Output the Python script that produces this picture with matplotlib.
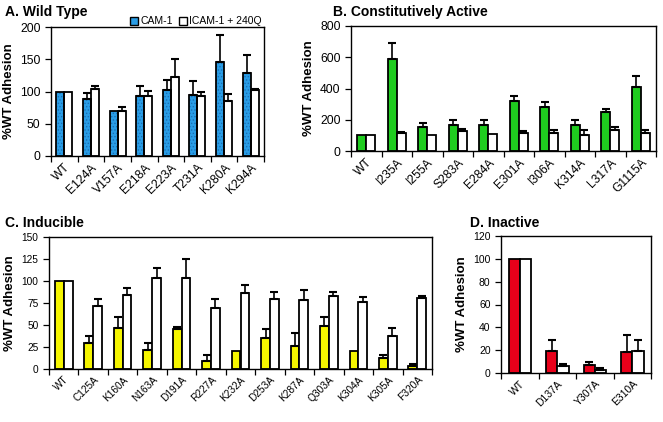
import matplotlib
matplotlib.use("Agg")
import matplotlib.pyplot as plt
import numpy as np
from matplotlib.patches import Patch

plt.rcParams['font.family'] = ['Liberation Sans', 'DejaVu Sans']
plt.rcParams['hatch.linewidth'] = 0.6

# Panel A
a_labels = ["WT", "E124A", "V157A", "E218A", "E223A", "T231A", "K280A", "K294A"]
a_s1 = [100, 88, 70, 93, 103, 94, 145, 129]
a_s1_err = [0, 9, 0, 16, 15, 22, 43, 28]
a_s2 = [100, 104, 70, 93, 122, 93, 86, 102]
a_s2_err = [0, 4, 6, 8, 28, 6, 10, 2]

# Panel B
b_labels = ["WT", "I235A", "I255A", "S283A", "E284A", "E301A", "I306A", "K314A", "L317A", "G1115A"]
b_s1 = [100, 592, 154, 169, 169, 321, 282, 165, 252, 411]
b_s1_err = [0, 97, 26, 28, 32, 30, 32, 32, 20, 68]
b_s2 = [100, 115, 100, 126, 111, 115, 115, 100, 137, 118]
b_s2_err = [0, 7, 0, 17, 0, 11, 18, 33, 15, 19]

# Panel C
c_labels = ["WT", "C125A", "K160A", "N163A", "D191A", "R227A", "K232A", "D253A", "K287A", "Q303A", "K304A", "K305A", "F320A"]
c_s1 = [100, 29, 47, 22, 45, 9, 21, 35, 26, 49, 20, 12, 3]
c_s1_err = [0, 9, 12, 8, 3, 7, 0, 11, 15, 10, 0, 4, 3]
c_s2 = [100, 72, 84, 103, 103, 69, 86, 79, 78, 83, 76, 37, 81]
c_s2_err = [0, 7, 8, 12, 22, 10, 9, 9, 12, 5, 6, 10, 2]

# Panel D
d_labels = ["WT", "D137A", "Y307A", "E310A"]
d_s1 = [100, 19, 7, 18]
d_s1_err = [0, 10, 3, 15]
d_s2 = [100, 6, 3, 19]
d_s2_err = [0, 2, 1, 10]

legend_labels = ["CAM-1", "ICAM-1 + 240Q"]

BLUE = '#2a9de6'
BLUE_DOT = '#1b6fb5'

W, H = 663, 422
fig = plt.figure(figsize=(W / 100, H / 100), dpi=100)

def add_ax(x0, y0, x1, y1):
    return fig.add_axes([x0 / W, 1 - y1 / H, (x1 - x0) / W, (y1 - y0) / H])

def panel(ax, labels, s1, e1, s2, e2, color, ymax, ystep, tfs, hatch=None):
    n = len(labels)
    x = np.arange(n)
    w = 0.30
    if hatch:
        ax.bar(x - w / 2, s1, w, color=color, edgecolor=BLUE_DOT, linewidth=0, hatch=hatch, zorder=2)
        ax.bar(x - w / 2, s1, w, facecolor='none', edgecolor='black', linewidth=1.3, zorder=2.1)
    else:
        ax.bar(x - w / 2, s1, w, color=color, edgecolor='black', linewidth=1.3, zorder=2)
    ax.bar(x + w / 2, s2, w, color='white', edgecolor='black', linewidth=1.3, zorder=2)
    for xs, vals, errs in ((x - w / 2, s1, e1), (x + w / 2, s2, e2)):
        for xi, v, e in zip(xs, vals, errs):
            if e > 0:
                ax.errorbar([xi], [v], yerr=[[0], [e]], fmt='none', ecolor='black',
                            elinewidth=1.2, capsize=3, capthick=1.5, zorder=3)
    ax.set_xlim(-0.5, n - 0.5)
    ax.set_ylim(0, ymax)
    ax.set_yticks(np.arange(0, ymax + 1, ystep))
    ax.set_xticks(x)
    ax.set_xticklabels(labels, rotation=45, ha='right', rotation_mode='anchor', fontsize=tfs)
    ax.tick_params(axis='x', length=0, pad=4)
    ax.set_xticks(np.arange(n + 1) - 0.5, minor=True)
    ax.tick_params(axis='x', which='minor', length=4, width=0.9, direction='out')
    ax.tick_params(axis='y', length=4, width=0.9, direction='out', labelsize=tfs)
    for s in ax.spines.values():
        s.set_linewidth(1.0)
    ax.set_ylabel('%WT Adhesion', fontsize=9.5, fontweight='bold')

axA = add_ax(51, 27, 264, 156)
panel(axA, a_labels, a_s1, a_s1_err, a_s2, a_s2_err, BLUE, 200, 50, 8.7, hatch='.....')
axB = add_ax(351, 26, 656, 151)
panel(axB, b_labels, b_s1, b_s1_err, b_s2, b_s2_err, '#1fcc1f', 800, 200, 8.7)
axC = add_ax(49, 237, 432, 369)
panel(axC, c_labels, c_s1, c_s1_err, c_s2, c_s2_err, '#f5f500', 150, 25, 7.3)
axD = add_ax(501, 236, 651, 373)
panel(axD, d_labels, d_s1, d_s1_err, d_s2, d_s2_err, '#e8001a', 120, 20, 7.5)

handles = [Patch(facecolor=BLUE, edgecolor='black'),
           Patch(facecolor='white', edgecolor='black')]
axA.legend(handles, legend_labels, loc='lower right', bbox_to_anchor=(1.0, 0.99),
           ncol=2, frameon=False, fontsize=7.5, handlelength=0.8, handleheight=0.8,
           handletextpad=0.2, columnspacing=0.6, borderaxespad=0.1, borderpad=0.1)

fig.text(5 / W, 1 - 12 / H, 'A. Wild Type', fontsize=10, fontweight='bold', va='center', ha='left')
fig.text(333 / W, 1 - 12 / H, 'B. Constitutively Active', fontsize=10, fontweight='bold', va='center', ha='left')
fig.text(5 / W, 1 - 223 / H, 'C. Inducible', fontsize=10, fontweight='bold', va='center', ha='left')
fig.text(470 / W, 1 - 223 / H, 'D. Inactive', fontsize=10, fontweight='bold', va='center', ha='left')

fig.savefig('out.png', dpi=100)
